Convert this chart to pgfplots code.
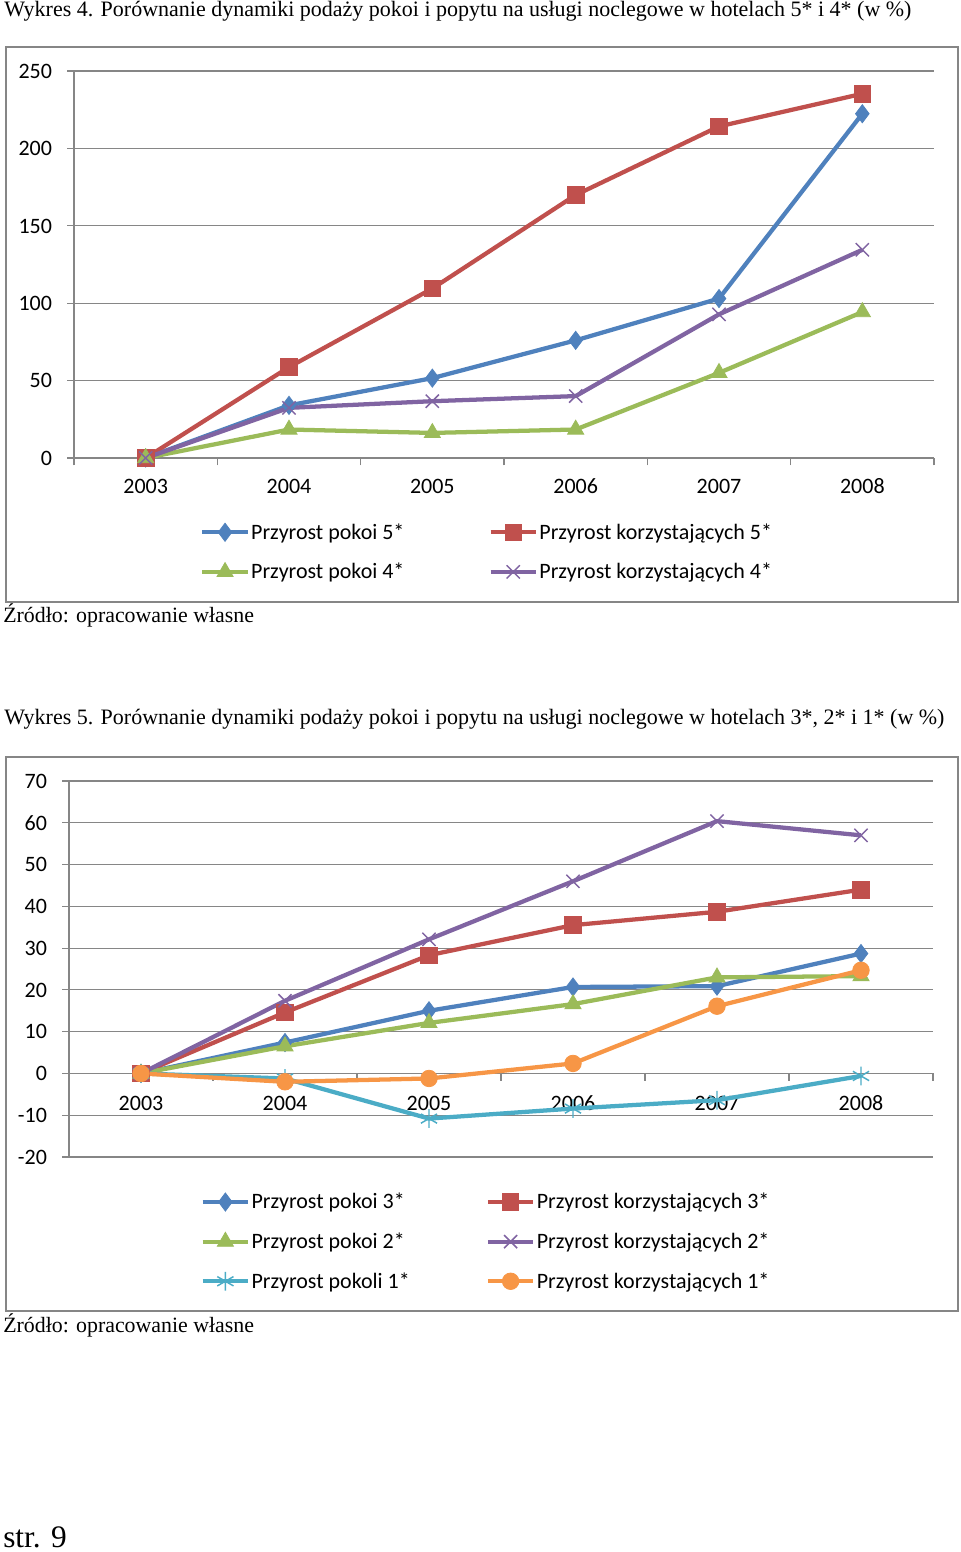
\documentclass[border=0pt]{standalone}
\usepackage{pgfplots}
\pgfplotsset{compat=1.18}
\usepackage{fontspec}
\setmainfont{Liberation Serif}
\newfontfamily\calibri{Carlito}
\definecolor{xblue}{HTML}{4F81BD}
\definecolor{xred}{HTML}{C0504D}
\definecolor{xgreen}{HTML}{9BBB59}
\definecolor{xpurple}{HTML}{8064A2}
\definecolor{xaqua}{HTML}{4BACC6}
\definecolor{xorange}{HTML}{F79646}
\definecolor{gridc}{HTML}{868686}

\pgfplotsset{
  excel/.style={
    scale only axis,
    xmin=-0.5, xmax=5.5,
    xtick={0,1,2,3,4,5},
    xticklabels={2003,2004,2005,2006,2007,2008},
    minor xtick={-0.5,0.5,1.5,2.5,3.5,4.5,5.5},
    major x tick style={draw=none},
    minor x tick style={gridc, line width=0.8pt},
    y tick style={gridc, line width=0.8pt},
    axis line style={gridc, line width=0.8pt, -},
    ymajorgrids,
    grid style={gridc, line width=0.8pt},
    tick label style={font=\calibri\fontsize{16.5}{17}\selectfont, text=black},
    typeset ticklabels with strut,
    /pgf/number format/assume math mode=true,
    hide obscured x ticks=false,
    hide obscured y ticks=false,
    clip=false,
    legend columns=2,
    legend cell align=left,
    legend style={draw=none, fill=none, inner sep=0pt,
      font=\calibri\fontsize{16.5}{17}\selectfont,
      row sep=14.5pt,
      nodes={inner sep=1pt}},
    legend image code/.code={%
      \draw[mark repeat=2,mark phase=2] plot coordinates {(0pt,0pt) (17pt,0pt) (34pt,0pt)};},
    every axis plot/.append style={line width=3.2pt, mark options={solid, line width=0.6pt}},
  },
  sblue/.style={xblue, mark=diamond*, mark size=6.8pt},
  sred/.style={xred, mark=square*, mark size=6.2pt},
  sgreen/.style={xgreen, mark=triangle*, mark size=7pt},
  spurple/.style={xpurple, mark=x, mark size=7pt, mark options={line width=1.1pt}},
  saqua/.style={xaqua, mark=asterisk, mark size=7pt, mark options={line width=1.1pt}},
  sorange/.style={xorange, mark=*, mark size=6.2pt},
}

\begin{document}
\begin{tikzpicture}[x=0.75pt, y=0.75pt]
\useasboundingbox (0,0) rectangle (960,-1552);

% ---- Titles and captions ----
\node[anchor=base west, inner sep=0, font=\fontsize{16.5}{18}\selectfont] at (4,-17)
  {Wykres 4. Porównanie dynamiki podaży pokoi i popytu na usługi noclegowe w hotelach 5* i 4* (w \%)};
\node[anchor=base west, inner sep=0, font=\fontsize{16.4}{18}\selectfont] at (3,-622)
  {Źródło: opracowanie własne};
\node[anchor=base west, inner sep=0, font=\fontsize{16.5}{18}\selectfont] at (4,-724)
  {Wykres 5. Porównanie dynamiki podaży pokoi i popytu na usługi noclegowe w hotelach 3*, 2* i 1* (w \%)};
\node[anchor=base west, inner sep=0, font=\fontsize{16.4}{18}\selectfont] at (3,-1332)
  {Źródło: opracowanie własne};
\node[anchor=base west, inner sep=0, font=\fontsize{23.5}{24}\selectfont] at (3,-1547)
  {str. 9};

% ---- Chart borders ----
\draw[gridc, line width=0.9pt] (6,-47) rectangle (958,-602);
\draw[gridc, line width=0.9pt] (6,-757) rectangle (958,-1311);

% ---- Chart 1 ----
\begin{axis}[excel,
  at={(55.5pt,-343.5pt)}, anchor=south west,
  width=645pt, height=290.25pt,
  axis x line=bottom, axis y line=left,
  axis line style={gridc, line width=0.8pt, -},
  tick align=outside,
  minor tick length=5.5pt, major tick length=5pt,
  ymin=0, ymax=250, ytick={0,50,100,150,200,250},
  yticklabel style={xshift=-8pt, yshift=-2pt},
  xticklabel style={yshift=-6pt},
  legend style={at={(0.1465,-0.165)}, anchor=north west,
    /tikz/every even column/.append style={column sep=62pt}},
]
\addplot[sblue] coordinates {(0,0) (1,34) (2,51.6) (3,76) (4,103) (5,222.4)};
\addlegendentry{Przyrost pokoi 5*}
\addplot[sred] coordinates {(0,0) (1,58.7) (2,109.5) (3,169.9) (4,214.2) (5,235.3)};
\addlegendentry{Przyrost korzystających 5*}
\addplot[sgreen] coordinates {(0,0) (1,18.4) (2,16.2) (3,18.4) (4,55) (5,94.3)};
\addlegendentry{Przyrost pokoi 4*}
\addplot[spurple] coordinates {(0,0) (1,32.4) (2,36.7) (3,40) (4,92.8) (5,134.5)};
\addlegendentry{Przyrost korzystających 4*}
\end{axis}

% ---- Chart 2 ----
\begin{axis}[excel,
  at={(51.75pt,-867.75pt)}, anchor=south west,
  width=648pt, height=282pt,
  axis x line=middle, axis y line=left,
  axis line style={gridc, line width=0.8pt, -},
  tick align=outside,
  minor tick length=5.5pt, major tick length=5pt,
  ymin=-20, ymax=70, ytick={-20,-10,0,10,20,30,40,50,60,70},
  yticklabel style={xshift=-8pt, yshift=-2pt},
  xticklabel style={yshift=-7pt},
  legend style={at={(0.152,-0.092)}, anchor=north west,
    /tikz/every even column/.append style={column sep=56pt}},
]
\addplot[sblue] coordinates {(0,0) (1,7.4) (2,15) (3,20.7) (4,20.9) (5,28.7)};
\addlegendentry{Przyrost pokoi 3*}
\addplot[sred] coordinates {(0,0) (1,14.6) (2,28.3) (3,35.5) (4,38.7) (5,44)};
\addlegendentry{Przyrost korzystających 3*}
\addplot[sgreen] coordinates {(0,0) (1,6.5) (2,12.1) (3,16.6) (4,23) (5,23.3)};
\addlegendentry{Przyrost pokoi 2*}
\addplot[spurple] coordinates {(0,0) (1,17.4) (2,32.1) (3,46) (4,60.4) (5,57)};
\addlegendentry{Przyrost korzystających 2*}
\addplot[saqua] coordinates {(0,0) (1,-1.2) (2,-10.8) (3,-8.4) (4,-6.4) (5,-0.6)};
\addlegendentry{Przyrost pokoli 1*}
\addplot[sorange] coordinates {(0,0) (1,-2) (2,-1.2) (3,2.4) (4,16.1) (5,24.7)};
\addlegendentry{Przyrost korzystających 1*}
\end{axis}
\end{tikzpicture}
\end{document}
